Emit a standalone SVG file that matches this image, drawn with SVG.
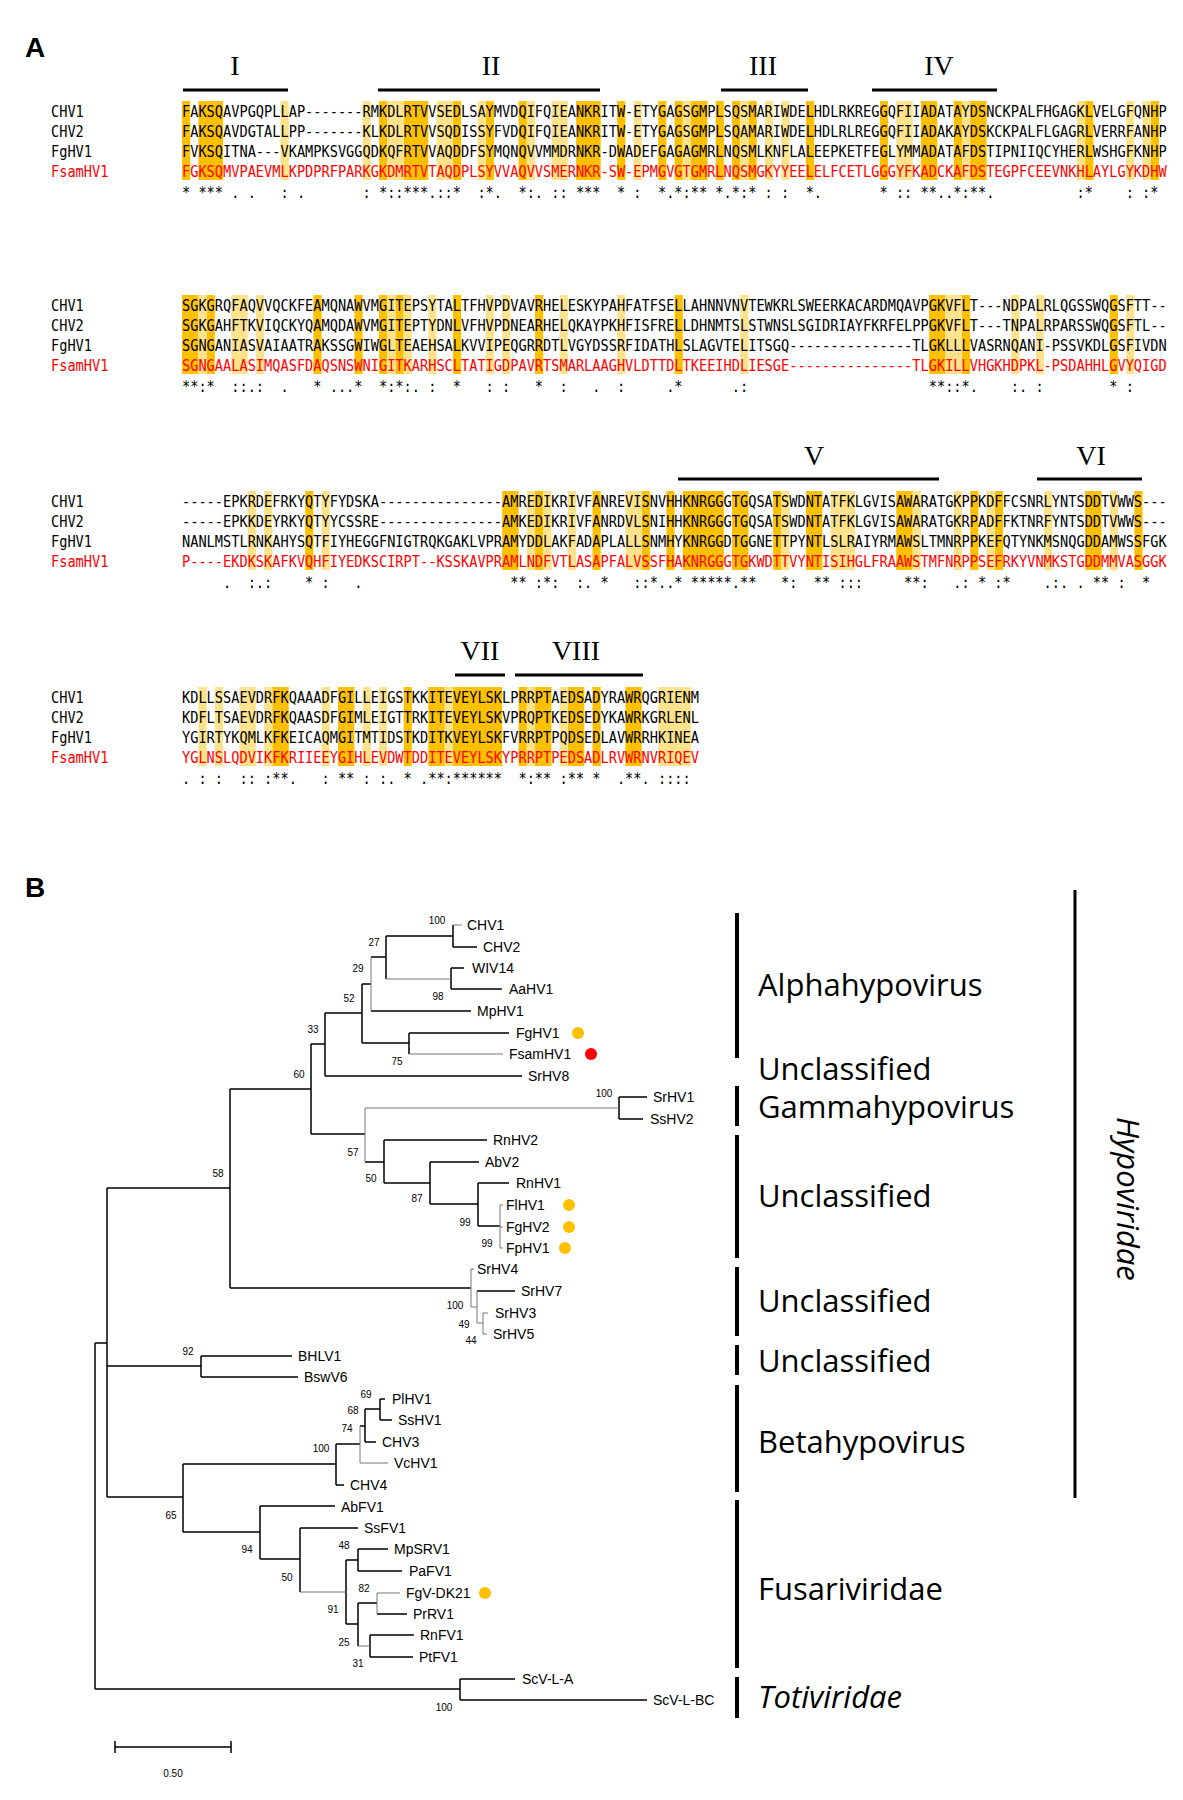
<svg xmlns="http://www.w3.org/2000/svg" width="1183" height="1800" viewBox="0 0 1183 1800">
<style>
.seq{font-family:"DejaVu Sans Mono","Liberation Mono",monospace;font-size:15px;fill:#000}
.red{fill:#FF0000}
.d{fill:#FFC000}
.l{fill:#FFE38C}
.rn{font-family:"Liberation Serif","Times New Roman",serif;font-size:28px;text-anchor:middle;fill:#000}
.bar{stroke:#000;stroke-width:3}
.pl{font-family:"Liberation Sans",Arial,sans-serif;font-size:28px;font-weight:bold;fill:#000}
.lab{font-family:"Liberation Sans",Arial,sans-serif;font-size:14px;fill:#000}
.bs{font-family:"Liberation Sans",Arial,sans-serif;font-size:10px;text-anchor:middle;fill:#000}
.b{stroke:#000;stroke-width:1.5;fill:none}
.t{stroke:#777;stroke-width:1;fill:none}
.cl{font-family:"Open Sans","Noto Sans",sans-serif;font-size:31px;fill:#000}
.it{font-style:italic}
.vb{stroke:#000;stroke-width:4}
.od{fill:#FFC000}
.rd{fill:#FF0000}
</style>
<rect width="1183" height="1800" fill="#fff"/>
<text class="pl" x="25" y="57">A</text>
<text class="pl" x="25" y="897">B</text>

<g id="motifs">
<text class="rn" x="235" y="75">I</text>
<text class="rn" x="491" y="75">II</text>
<text class="rn" x="763" y="75">III</text>
<text class="rn" x="939" y="75">IV</text>
<text class="rn" x="814" y="465">V</text>
<text class="rn" x="1091" y="465">VI</text>
<text class="rn" x="480" y="660">VII</text>
<text class="rn" x="576" y="660">VIII</text>
<path class="bar" d="M183 90H288M378 90H600M721 90H808M872 90H997M678 479H939M1037 479H1142M455 675H505M515 675H643"/>
</g>

<g id="block1">
<g transform="translate(182,101) scale(8.21,1)">
<rect class="d" x="0" width="1" height="79"/><rect class="d" x="2" width="3" height="79"/><rect class="d" x="24" width="1" height="79"/><rect class="d" x="27" width="3" height="79"/><rect class="d" x="33" width="1" height="79"/><rect class="d" x="37" width="1" height="79"/><rect class="d" x="41" width="1" height="79"/><rect class="d" x="48" width="3" height="79"/><rect class="d" x="53" width="1" height="79"/><rect class="d" x="58" width="1" height="79"/><rect class="d" x="60" width="1" height="79"/><rect class="d" x="62" width="2" height="79"/><rect class="d" x="65" width="1" height="79"/><rect class="d" x="67" width="1" height="79"/><rect class="d" x="69" width="1" height="79"/><rect class="d" x="76" width="1" height="79"/><rect class="d" x="85" width="1" height="79"/><rect class="d" x="90" width="2" height="79"/><rect class="d" x="94" width="1" height="79"/><rect class="d" x="96" width="2" height="79"/><rect class="d" x="110" width="1" height="79"/><rect class="d" x="118" width="1" height="79"/>
<rect class="l" x="12" width="1" height="79"/><rect class="l" x="22" width="1" height="79"/><rect class="l" x="25" width="2" height="79"/><rect class="l" x="31" width="2" height="79"/><rect class="l" x="36" width="1" height="79"/><rect class="l" x="42" width="1" height="79"/><rect class="l" x="45" width="2" height="79"/><rect class="l" x="55" width="1" height="79"/><rect class="l" x="61" width="1" height="79"/><rect class="l" x="68" width="1" height="79"/><rect class="l" x="71" width="1" height="79"/><rect class="l" x="73" width="1" height="79"/><rect class="l" x="87" width="2" height="79"/><rect class="l" x="95" width="1" height="79"/><rect class="l" x="109" width="1" height="79"/><rect class="l" x="115" width="1" height="79"/><rect class="l" x="117" width="1" height="79"/>
</g>
<text class="seq" transform="translate(51,117) scale(0.909,1)">CHV1</text>
<text class="seq" transform="translate(51,137) scale(0.909,1)">CHV2</text>
<text class="seq" transform="translate(51,157) scale(0.909,1)">FgHV1</text>
<text class="seq red" transform="translate(51,177) scale(0.909,1)">FsamHV1</text>
<text class="seq" transform="translate(182,117) scale(0.909,1)">FAKSQAVPGQPLLAP-------RMKDLRTVVSEDLSAYMVDQIFQIEANKRITW-ETYGAGSGMPLSQSMARIWDELHDLRKREGGQFIIADATAYDSNCKPALFHGAGKLVELGFQNHP</text>
<text class="seq" transform="translate(182,137) scale(0.909,1)">FAKSQAVDGTALLPP-------KLKDLRTVVSQDISSYFVDQIFQIEANKRITW-ETYGAGSGMPLSQAMARIWDELHDLRLREGGQFIIADAKAYDSKCKPALFLGAGRLVERRFANHP</text>
<text class="seq" transform="translate(182,157) scale(0.909,1)">FVKSQITNA---VKAMPKSVGGQDKQFRTVVAQDDFSYMQNQVVMMDRNKR-DWADEFGAGAGMRLNQSMLKNFLALEEPKETFEGLYMMADATAFDSTIPNIIQCYHERLWSHGFKNHP</text>
<text class="seq red" transform="translate(182,177) scale(0.909,1)">FGKSQMVPAEVMLKPDPRFPARKGKDMRTVTAQDPLSYVVAQVVSMERNKR-SW-EPMGVGTGMRLNQSMGKYYEELELFCETLGGGYFKADCKAFDSTEGPFCEEVNKHLAYLGYKDHW</text>
<text class="seq" transform="translate(182,198) scale(0.909,1)" xml:space="preserve">* *** . .   : .       : *::***.::*  :*.  *:. :: ***  * :  *.*:** *.*:* : :  *.       * :: **..*:**.          :*    : :* </text>
</g>

<g id="block2">
<g transform="translate(182,295) scale(8.21,1)">
<rect class="d" x="0" width="2" height="79"/><rect class="d" x="3" width="1" height="79"/><rect class="d" x="16" width="1" height="79"/><rect class="d" x="21" width="1" height="79"/><rect class="d" x="24" width="1" height="79"/><rect class="d" x="26" width="1" height="79"/><rect class="d" x="33" width="1" height="79"/><rect class="d" x="43" width="1" height="79"/><rect class="d" x="60" width="1" height="79"/><rect class="d" x="91" width="2" height="79"/><rect class="d" x="95" width="1" height="79"/><rect class="d" x="113" width="1" height="79"/>
<rect class="l" x="2" width="1" height="79"/><rect class="l" x="6" width="2" height="79"/><rect class="l" x="9" width="1" height="79"/><rect class="l" x="25" width="1" height="79"/><rect class="l" x="27" width="1" height="79"/><rect class="l" x="30" width="1" height="79"/><rect class="l" x="37" width="1" height="79"/><rect class="l" x="39" width="1" height="79"/><rect class="l" x="46" width="1" height="79"/><rect class="l" x="53" width="1" height="79"/><rect class="l" x="68" width="1" height="79"/><rect class="l" x="93" width="2" height="79"/><rect class="l" x="101" width="1" height="79"/><rect class="l" x="104" width="1" height="79"/><rect class="l" x="115" width="1" height="79"/>
</g>
<text class="seq" transform="translate(51,311) scale(0.909,1)">CHV1</text>
<text class="seq" transform="translate(51,331) scale(0.909,1)">CHV2</text>
<text class="seq" transform="translate(51,351) scale(0.909,1)">FgHV1</text>
<text class="seq red" transform="translate(51,371) scale(0.909,1)">FsamHV1</text>
<text class="seq" transform="translate(182,311) scale(0.909,1)">SGKGRQFAQVVQCKFEAMQNAWVMGITEPSYTALTFHVPDVAVRHELESKYPAHFATFSELLAHNNVNVTEWKRLSWEERKACARDMQAVPGKVFLT---NDPALRLQGSSWQGSFTT--</text>
<text class="seq" transform="translate(182,331) scale(0.909,1)">SGKGAHFTKVIQCKYQAMQDAWVMGITEPTYDNLVFHVPDNEARHELQKAYPKHFISFRELLDHNMTSLSTWNSLSGIDRIAYFKRFELPPGKVFLT---TNPALRPARSSWQGSFTL--</text>
<text class="seq" transform="translate(182,351) scale(0.909,1)">SGNGANIASVAIAATRAKSSGWIWGLTEAEHSALKVVIPEQGRRDTLVGYDSSRFIDATHLSLAGVTELITSGQ---------------TLGKLLLVASRNQANI-PSSVKDLGSFIVDN</text>
<text class="seq red" transform="translate(182,371) scale(0.909,1)">SGNGAALASIMQASFDAQSNSWNIGITKARHSCLTATIGDPAVRTSMARLAAGHVLDTTDLTKEEIHDLIESGE---------------TLGKILLVHGKHDPKL-PSDAHHLGVYQIGD</text>
<text class="seq" transform="translate(182,392) scale(0.909,1)" xml:space="preserve">**:*  ::.:  .   * ...*  *:*:. :  *   : :   *  :   .  :     .*      .:                      **::*.    :. :        * :    </text>
</g>

<g id="block3">
<g transform="translate(182,491) scale(8.21,1)">
<rect class="d" x="15" width="1" height="79"/><rect class="d" x="39" width="2" height="79"/><rect class="d" x="43" width="1" height="79"/><rect class="d" x="50" width="1" height="79"/><rect class="d" x="56" width="1" height="79"/><rect class="d" x="59" width="1" height="79"/><rect class="d" x="61" width="5" height="79"/><rect class="d" x="67" width="2" height="79"/><rect class="d" x="72" width="1" height="79"/><rect class="d" x="76" width="2" height="79"/><rect class="d" x="87" width="2" height="79"/><rect class="d" x="96" width="1" height="79"/><rect class="d" x="99" width="1" height="79"/><rect class="d" x="110" width="2" height="79"/><rect class="d" x="116" width="1" height="79"/>
<rect class="l" x="8" width="1" height="79"/><rect class="l" x="10" width="1" height="79"/><rect class="l" x="17" width="1" height="79"/><rect class="l" x="42" width="1" height="79"/><rect class="l" x="44" width="1" height="79"/><rect class="l" x="47" width="1" height="79"/><rect class="l" x="54" width="2" height="79"/><rect class="l" x="73" width="1" height="79"/><rect class="l" x="79" width="3" height="79"/><rect class="l" x="89" width="1" height="79"/><rect class="l" x="94" width="1" height="79"/><rect class="l" x="98" width="1" height="79"/><rect class="l" x="105" width="1" height="79"/><rect class="l" x="113" width="1" height="79"/>
</g>
<text class="seq" transform="translate(51,507) scale(0.909,1)">CHV1</text>
<text class="seq" transform="translate(51,527) scale(0.909,1)">CHV2</text>
<text class="seq" transform="translate(51,547) scale(0.909,1)">FgHV1</text>
<text class="seq red" transform="translate(51,567) scale(0.909,1)">FsamHV1</text>
<text class="seq" transform="translate(182,507) scale(0.909,1)">-----EPKRDEFRKYQTYFYDSKA---------------AMREDIKRIVFANREVISNVHHKNRGGGTGQSATSWDNTATFKLGVISAWARATGKPPKDFFCSNRLYNTSDDTVWWS---</text>
<text class="seq" transform="translate(182,527) scale(0.909,1)">-----EPKKDEYRKYQTYYCSSRE---------------AMKEDIKRIVFANRDVLSNIHHKNRGGGTGQSATSWDNTATFKLGVISAWARATGKRPADFFKTNRFYNTSDDTVWWS---</text>
<text class="seq" transform="translate(182,547) scale(0.909,1)">NANLMSTLRNKAHYSQTFIYHEGGFNIGTRQKGAKLVPRAMYDDLAKFADAPLALLSNMHYKNRGGDTGGNETTPYNTLSLRAIYRMAWSLTMNRPPKEFQTYNKMSNQGDDAMWSSFGK</text>
<text class="seq red" transform="translate(182,567) scale(0.909,1)">P----EKDKSKAFKVQHFIYEDKSCIRPT--KSSKAVPRAMLNDFVTLASAPFALVSSFHAKNRGGGTGKWDTTVYNTISIHGLFRAAWSTMFNRPPSEFRKYVNMKSTGDDMMVASGGK</text>
<text class="seq" transform="translate(182,588) scale(0.909,1)" xml:space="preserve">     .  :.:    * :   .                  ** :*:  :. *   ::*..* *****.**   *:  ** :::     **:   .: * :*    .:. . ** :  *   </text>
</g>

<g id="block4">
<g transform="translate(182,687) scale(8.21,1)">
<rect class="d" x="11" width="2" height="79"/><rect class="d" x="19" width="2" height="79"/><rect class="d" x="27" width="1" height="79"/><rect class="d" x="30" width="2" height="79"/><rect class="d" x="33" width="6" height="79"/><rect class="d" x="41" width="1" height="79"/><rect class="d" x="43" width="2" height="79"/><rect class="d" x="47" width="2" height="79"/><rect class="d" x="50" width="1" height="79"/><rect class="d" x="54" width="2" height="79"/>
<rect class="l" x="2" width="1" height="79"/><rect class="l" x="4" width="1" height="79"/><rect class="l" x="7" width="2" height="79"/><rect class="l" x="10" width="1" height="79"/><rect class="l" x="17" width="1" height="79"/><rect class="l" x="22" width="1" height="79"/><rect class="l" x="24" width="1" height="79"/><rect class="l" x="32" width="1" height="79"/><rect class="l" x="42" width="1" height="79"/><rect class="l" x="46" width="1" height="79"/><rect class="l" x="58" width="4" height="79"/>
</g>
<text class="seq" transform="translate(51,703) scale(0.909,1)">CHV1</text>
<text class="seq" transform="translate(51,723) scale(0.909,1)">CHV2</text>
<text class="seq" transform="translate(51,743) scale(0.909,1)">FgHV1</text>
<text class="seq red" transform="translate(51,763) scale(0.909,1)">FsamHV1</text>
<text class="seq" transform="translate(182,703) scale(0.909,1)">KDLLSSAEVDRFKQAAADFGILLEIGSTKKITEVEYLSKLPRRPTAEDSADYRAWRQGRIENM</text>
<text class="seq" transform="translate(182,723) scale(0.909,1)">KDFLTSAEVDRFKQAASDFGIMLEIGTTRKITEVEYLSKVPRQPTKEDSEDYKAWRKGRLENL</text>
<text class="seq" transform="translate(182,743) scale(0.909,1)">YGIRTYKQMLKFKEICAQMGITMTIDSTKDITKVEYLSKFVRRPTPQDSEDLAVWRRHKINEA</text>
<text class="seq red" transform="translate(182,763) scale(0.909,1)">YGLNSLQDVIKFKRIIEEYGIHLEVDWTDDITEVEYLSKYPRRPTPEDSADLRVWRNVRIQEV</text>
<text class="seq" transform="translate(182,784) scale(0.909,1)" xml:space="preserve">. : :  :: :**.   : ** : :. * .**:******  *:** :** *  .**. :::: </text>
</g>

<g id="connectors">
<path class="b" d="M453 947H477M453 925V947M386 936H453M451 968H464M451 989H502M451 968V989M386 936V979M371 957H386M371 1011H471M362 984H371M409 1033H509M409 1033V1054M362 1043H409M362 984V1043M325 1013H362M325 1076H522M325 1013V1076M311 1044H325M619 1097H647M619 1119H643M619 1097V1119M384 1140H487M430 1162H479M478 1183H509M478 1183V1226M478 1226H500M430 1162V1204M430 1204H478M384 1183H430M384 1140V1183M365 1162H384M311 1134H365M311 1044V1134M230 1089H311M477 1291H515M230 1288H471M230 1089V1288M107 1188H230M201 1356H292M201 1377H298M201 1356V1377M107 1366H201M380 1399H385M380 1420H392M380 1399V1420M365 1409H380M365 1442H376M365 1409V1442M360 1426H365M336 1444H360M336 1485H344M336 1444V1485M183 1464H336M260 1506H335M300 1528H358M358 1549H388M358 1571H402M358 1549V1571M346 1560H358M377 1614H407M358 1603H377M370 1635H414M370 1657H413M370 1635V1657M358 1603V1646M346 1624H358M346 1560V1624M300 1528V1592M260 1559H300M260 1506V1559M183 1532H260M183 1464V1532M107 1497H183M107 1188V1497M95 1343H107M460 1679H515M460 1700H647M460 1679V1700M95 1689H460M95 1343V1689"/>
<path class="t" d="M453 925H462M386 979H451M371 957V1011M409 1054H503M365 1108H619M365 1108V1162M500 1205V1248M500 1205H503M500 1227H503M500 1248H503M483 1313H488M483 1334H487M483 1313V1334M477 1323H483M477 1291V1323M471 1307H477M471 1269V1307M471 1269H474M360 1463H388M360 1426V1463M377 1593H400M377 1593V1614M358 1646H370M300 1592H346"/>
<path class="b" d="M115 1747H231M115 1741V1753M231 1741V1753"/>
</g>

<g id="bootstrap">
<text class="bs" x="437" y="924">100</text>
<text class="bs" x="374" y="946">27</text>
<text class="bs" x="358" y="972">29</text>
<text class="bs" x="438" y="1000">98</text>
<text class="bs" x="349" y="1002">52</text>
<text class="bs" x="313" y="1033">33</text>
<text class="bs" x="397" y="1065">75</text>
<text class="bs" x="299" y="1078">60</text>
<text class="bs" x="604" y="1097">100</text>
<text class="bs" x="353" y="1156">57</text>
<text class="bs" x="371" y="1182">50</text>
<text class="bs" x="218" y="1177">58</text>
<text class="bs" x="417" y="1202">87</text>
<text class="bs" x="465" y="1226">99</text>
<text class="bs" x="487" y="1247">99</text>
<text class="bs" x="455" y="1309">100</text>
<text class="bs" x="464" y="1328">49</text>
<text class="bs" x="471" y="1344">44</text>
<text class="bs" x="188" y="1355">92</text>
<text class="bs" x="366" y="1398">69</text>
<text class="bs" x="353" y="1414">68</text>
<text class="bs" x="347" y="1432">74</text>
<text class="bs" x="321" y="1452">100</text>
<text class="bs" x="171" y="1519">65</text>
<text class="bs" x="247" y="1553">94</text>
<text class="bs" x="344" y="1549">48</text>
<text class="bs" x="287" y="1581">50</text>
<text class="bs" x="364" y="1592">82</text>
<text class="bs" x="333" y="1613">91</text>
<text class="bs" x="344" y="1646">25</text>
<text class="bs" x="358" y="1667">31</text>
<text class="bs" x="444" y="1711">100</text>
<text class="bs" x="173" y="1777">0.50</text>
</g>

<g id="leaves">
<g id="n-CHV1"><text class="lab" x="467" y="930">CHV1</text></g>
<g id="n-CHV2"><text class="lab" x="483" y="952">CHV2</text></g>
<g id="n-WIV14"><text class="lab" x="472" y="973">WIV14</text></g>
<g id="n-AaHV1"><text class="lab" x="509" y="994">AaHV1</text></g>
<g id="n-MpHV1"><text class="lab" x="477" y="1016">MpHV1</text></g>
<g id="n-FgHV1"><text class="lab" x="516" y="1038">FgHV1</text><circle class="od" cx="578" cy="1033" r="6"/></g>
<g id="n-FsamHV1"><text class="lab" x="509" y="1059">FsamHV1</text><circle class="rd" cx="591" cy="1054" r="6"/></g>
<g id="n-SrHV8"><text class="lab" x="528" y="1081">SrHV8</text></g>
<g id="n-SrHV1"><text class="lab" x="653" y="1102">SrHV1</text></g>
<g id="n-SsHV2"><text class="lab" x="650" y="1124">SsHV2</text></g>
<g id="n-RnHV2"><text class="lab" x="493" y="1145">RnHV2</text></g>
<g id="n-AbV2"><text class="lab" x="485" y="1167">AbV2</text></g>
<g id="n-RnHV1"><text class="lab" x="516" y="1188">RnHV1</text></g>
<g id="n-FlHV1"><text class="lab" x="506" y="1210">FlHV1</text><circle class="od" cx="569" cy="1205" r="6"/></g>
<g id="n-FgHV2"><text class="lab" x="506" y="1232">FgHV2</text><circle class="od" cx="569" cy="1227" r="6"/></g>
<g id="n-FpHV1"><text class="lab" x="506" y="1253">FpHV1</text><circle class="od" cx="565" cy="1248" r="6"/></g>
<g id="n-SrHV4"><text class="lab" x="477" y="1274">SrHV4</text></g>
<g id="n-SrHV7"><text class="lab" x="521" y="1296">SrHV7</text></g>
<g id="n-SrHV3"><text class="lab" x="495" y="1318">SrHV3</text></g>
<g id="n-SrHV5"><text class="lab" x="493" y="1339">SrHV5</text></g>
<g id="n-BHLV1"><text class="lab" x="298" y="1361">BHLV1</text></g>
<g id="n-BswV6"><text class="lab" x="304" y="1382">BswV6</text></g>
<g id="n-PlHV1"><text class="lab" x="392" y="1404">PlHV1</text></g>
<g id="n-SsHV1"><text class="lab" x="398" y="1425">SsHV1</text></g>
<g id="n-CHV3"><text class="lab" x="382" y="1447">CHV3</text></g>
<g id="n-VcHV1"><text class="lab" x="394" y="1468">VcHV1</text></g>
<g id="n-CHV4"><text class="lab" x="350" y="1490">CHV4</text></g>
<g id="n-AbFV1"><text class="lab" x="341" y="1512">AbFV1</text></g>
<g id="n-SsFV1"><text class="lab" x="364" y="1533">SsFV1</text></g>
<g id="n-MpSRV1"><text class="lab" x="394" y="1554">MpSRV1</text></g>
<g id="n-PaFV1"><text class="lab" x="409" y="1576">PaFV1</text></g>
<g id="n-FgV-DK21"><text class="lab" x="406" y="1598">FgV-DK21</text><circle class="od" cx="485" cy="1593" r="6"/></g>
<g id="n-PrRV1"><text class="lab" x="413" y="1619">PrRV1</text></g>
<g id="n-RnFV1"><text class="lab" x="420" y="1640">RnFV1</text></g>
<g id="n-PtFV1"><text class="lab" x="419" y="1662">PtFV1</text></g>
<g id="n-ScV-L-A"><text class="lab" x="522" y="1684">ScV-L-A</text></g>
<g id="n-ScV-L-BC"><text class="lab" x="653" y="1705">ScV-L-BC</text></g>
</g>

<g id="classification">
<path class="vb" d="M737 913V1058M737 1086V1126M737 1135V1258M737 1267V1336M737 1345V1375M737 1385V1492M737 1500V1668M737 1677V1718"/>
<path class="bar" d="M1075 890V1498"/>
<text class="cl" x="758" y="996">Alphahypovirus</text>
<text class="cl" x="758" y="1080">Unclassified</text>
<text class="cl" x="758" y="1118">Gammahypovirus</text>
<text class="cl" x="758" y="1207">Unclassified</text>
<text class="cl" x="758" y="1312">Unclassified</text>
<text class="cl" x="758" y="1372">Unclassified</text>
<text class="cl" x="758" y="1453">Betahypovirus</text>
<text class="cl" x="758" y="1600">Fusariviridae</text>
<text class="cl it" x="758" y="1708">Totiviridae</text>
<text class="cl it" transform="translate(1117,1117) rotate(90)">Hypoviridae</text>
</g>
</svg>
